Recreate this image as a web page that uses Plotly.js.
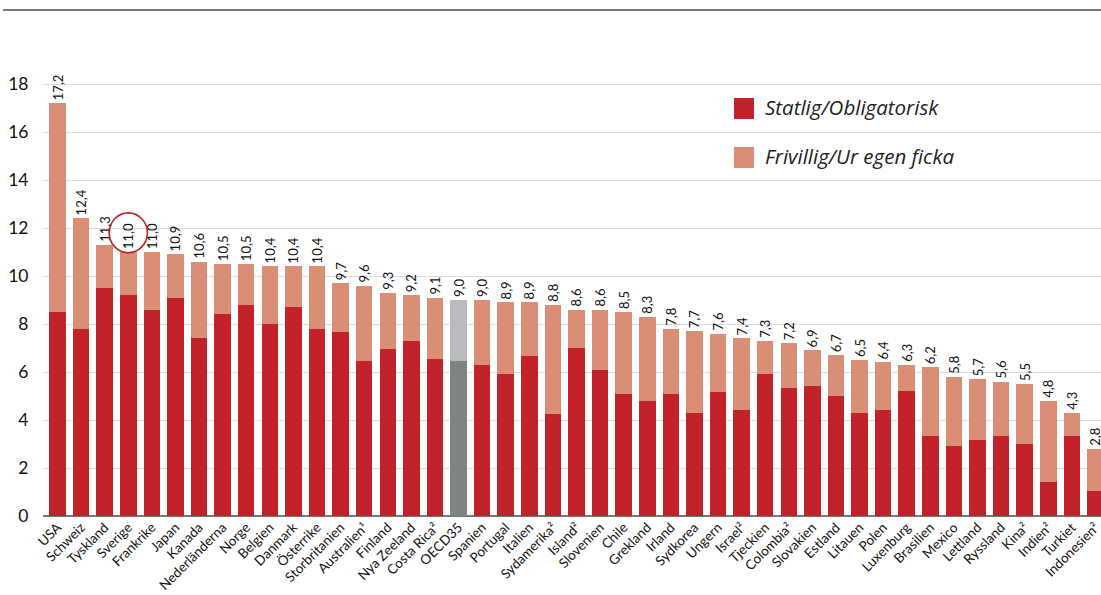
<!DOCTYPE html>
<html>
<head>
<meta charset="utf-8">
<script src="https://cdn.plot.ly/plotly-3.0.1.min.js"></script>
<style>html,body{margin:0;padding:0;background:#fff;}#chart{width:1101px;height:595px;}</style>
</head>
<body>
<div id="chart"></div>
<script>
const countries = ["USA","Schweiz","Tyskland","Sverige","Frankrike","Japan","Kanada","Nederländerna","Norge","Belgien","Danmark","Österrike","Storbritanien","Australien¹","Finland","Nya Zeeland","Costa Rica²","OECD35","Spanien","Portugal","Italien","Sydamerika²","Island²","Slovenien","Chile","Grekland","Irland","Sydkorea","Ungern","Israel²","Tjeckien","Colombia²","Slovakien","Estland","Litauen","Polen","Luxenburg","Brasilien","Mexico","Lettland","Ryssland","Kina²","Indien²","Turkiet","Indonesien²"];
const totals = [17.2,12.4,11.3,11.0,11.0,10.9,10.6,10.5,10.5,10.4,10.4,10.4,9.7,9.6,9.3,9.2,9.1,9.0,9.0,8.9,8.9,8.8,8.6,8.6,8.5,8.3,7.8,7.7,7.6,7.4,7.3,7.2,6.9,6.7,6.5,6.4,6.3,6.2,5.8,5.7,5.6,5.5,4.8,4.3,2.8];
const statlig = [8.5,7.8,9.5,9.2,8.6,9.1,7.4,8.4,8.8,8.0,8.7,7.8,7.65,6.45,6.95,7.3,6.55,6.45,6.3,5.9,6.65,4.25,7.0,6.1,5.1,4.8,5.1,4.3,5.15,4.4,5.9,5.35,5.4,5.0,4.3,4.4,5.2,3.35,2.9,3.15,3.35,3.0,1.4,3.35,1.05];
const tickVals = [0,2,4,6,8,10,12,14,16,18];

const frivillig = totals.map((t, i) => +(t - statlig[i]).toFixed(2));
const labels = totals.map(t => t.toFixed(1).replace('.', ','));
const x = countries.map((c, i) => i);
const oecdIdx = countries.indexOf("OECD35");
const redCols = countries.map((c, i) => i === oecdIdx ? '#7e8482' : '#c1222c');
const salmonCols = countries.map((c, i) => i === oecdIdx ? '#bbbabf' : '#d98e75');

const traces = [
  {type:'bar', x:x, y:statlig, marker:{color:redCols, line:{width:0}}, hoverinfo:'skip', name:'Statlig/Obligatorisk'},
  {type:'bar', x:x, y:frivillig, marker:{color:salmonCols, line:{width:0}}, hoverinfo:'skip', name:'Frivillig/Ur egen ficka',
   text:labels, textposition:'outside', textangle:-90, cliponaxis:false, constraintext:'none',
   textfont:{family:'Lato, sans-serif', size:13, color:'#111'}}
];

const L = 43, W = 1101 - 43, T = 36, H = 480;
const px = v => (v - L) / W;
const py = v => (T + H - v) / H;

const layout = {
  width:1101, height:595,
  margin:{l:L, r:0, t:T, b:595 - T - H},
  paper_bgcolor:'#fff', plot_bgcolor:'#fff',
  barmode:'stack', bargap:0.3, showlegend:false,
  font:{family:'Lato, sans-serif', color:'#111'},
  xaxis:{
    range:[-0.615, 44.235], tickmode:'array', tickvals:x, ticktext:countries,
    tickangle:-45, tickfont:{size:13.5, color:'#111'}, showgrid:false, zeroline:false,
    showline:false, ticks:'', fixedrange:true, ticklabeloverflow:'allow', automargin:false
  },
  yaxis:{
    range:[0, 20], tickmode:'array', tickvals:tickVals, ticktext:tickVals.map(String),
    tickfont:{size:17.5, color:'#111'}, showgrid:true, gridcolor:'#dcdcdc', gridwidth:1,
    zeroline:true, zerolinecolor:'#777', zerolinewidth:2,
    ticks:'outside', ticklen:10, tickcolor:'rgba(0,0,0,0)', showline:false, fixedrange:true
  },
  shapes:[
    {type:'line', xref:'paper', yref:'paper', x0:px(3), x1:px(1101), y0:py(10), y1:py(10), line:{color:'#777', width:2}},
    {type:'circle', xref:'x', yref:'y', x0:3 - 0.81, x1:3 + 0.81, y0:11.8 - 0.83, y1:11.8 + 0.83, line:{color:'#c1222c', width:1.6}},
    {type:'rect', xref:'paper', yref:'paper', x0:px(734), x1:px(754), y0:py(119), y1:py(98), fillcolor:'#c1222c', line:{width:0}},
    {type:'rect', xref:'paper', yref:'paper', x0:px(734), x1:px(754), y0:py(168), y1:py(147), fillcolor:'#d98e75', line:{width:0}}
  ],
  annotations:[
    {xref:'paper', yref:'paper', x:px(763), y:py(107), xanchor:'left', yanchor:'middle', showarrow:false,
     text:'Statlig/Obligatorisk', font:{family:'Open Sans, sans-serif', size:20.5, style:'italic', color:'#222'}},
    {xref:'paper', yref:'paper', x:px(763), y:py(156), xanchor:'left', yanchor:'middle', showarrow:false,
     text:'Frivillig/Ur egen ficka', font:{family:'Open Sans, sans-serif', size:20.5, style:'italic', color:'#222'}}
  ]
};

Plotly.newPlot('chart', traces, layout, {displayModeBar:false, staticPlot:true});
</script>
</body>
</html>
